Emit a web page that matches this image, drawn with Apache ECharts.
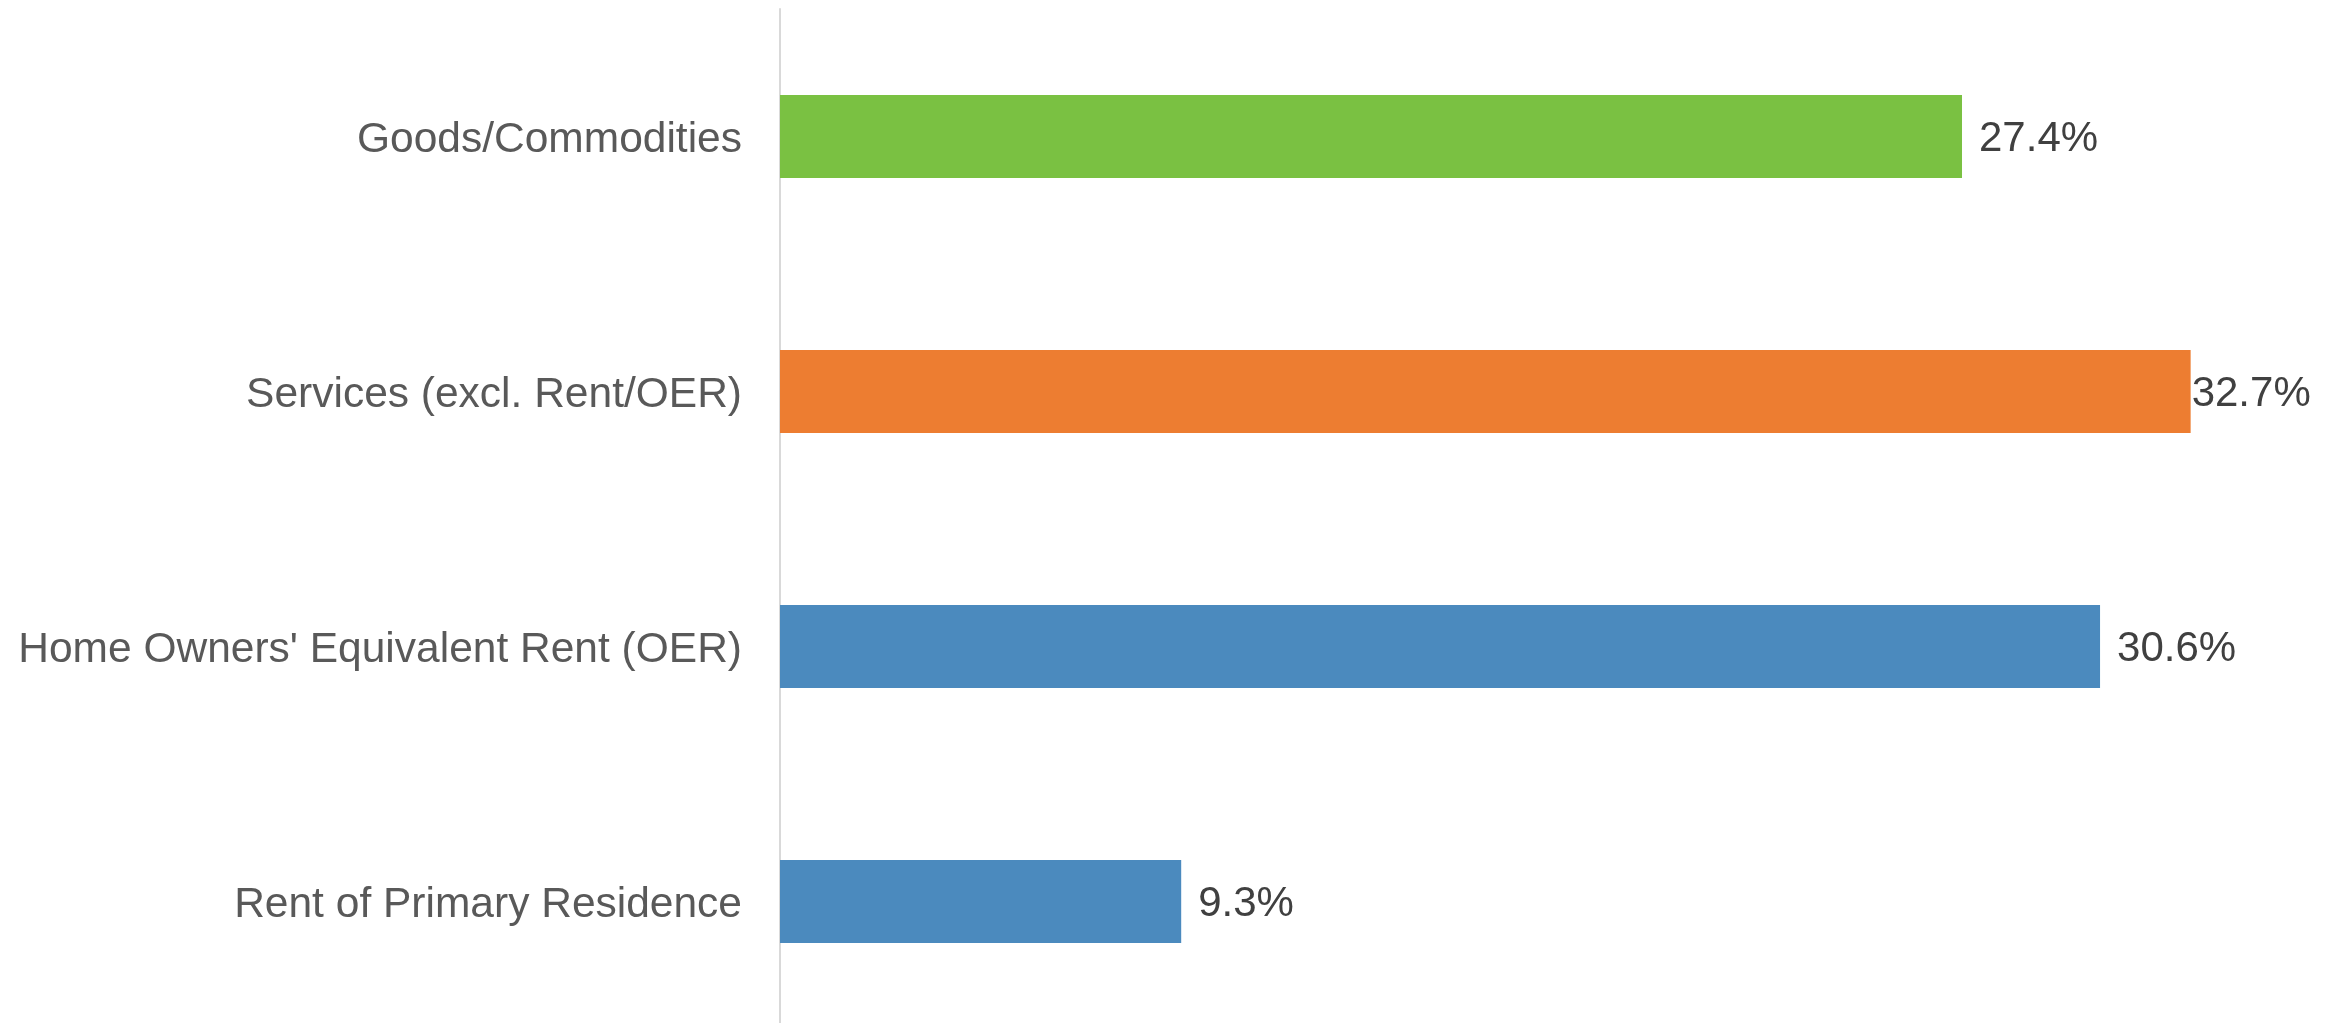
<!DOCTYPE html>
<html>
<head>
<meta charset="utf-8">
<script src="https://cdn.jsdelivr.net/npm/echarts@6/dist/echarts.min.js"></script>
<style>
  html, body { margin: 0; padding: 0; background: #ffffff; }
  #chart { width: 2341px; height: 1023px; }
</style>
</head>
<body>
<div id="chart"></div>
<script>
// Share of CPI components (top to bottom)
const categories = [
  "Goods/Commodities",
  "Services (excl. Rent/OER)",
  "Home Owners' Equivalent Rent (OER)",
  "Rent of Primary Residence"
];
const values = [27.4, 32.7, 30.6, 9.3];
const barColors = ["#7AC142", "#ED7D31", "#4B8ABE", "#4B8ABE"];
const labelGaps = [17, 1, 17, 17];

const chart = echarts.init(document.getElementById('chart'));

chart.setOption({
  animation: false,
  grid: {
    left: 780, width: 1553, top: 9, height: 1020,
    containLabel: false,
    outerBoundsMode: 'none'
  },
  xAxis: {
    type: 'value',
    min: 0,
    max: 36,
    show: false
  },
  yAxis: {
    type: 'category',
    data: categories,
    inverse: true,
    axisLine: { show: true, lineStyle: { color: '#D9D9D9', width: 2 } },
    axisTick: { show: false },
    axisLabel: {
      margin: 38,
      formatter: v => '{c|' + v + '}',
      rich: {
        c: {
          color: '#595959',
          fontFamily: 'Liberation Sans, Arial, sans-serif',
          fontSize: 42.5,
          padding: [7, 0, 0, 0]
        }
      }
    }
  },
  series: [{
    type: 'bar',
    barCategoryGap: '67.5%',
    data: values.map((v, i) => ({
      value: v,
      itemStyle: { color: barColors[i] },
      label: { distance: labelGaps[i] }
    })),
    label: {
      show: true,
      position: 'right',
      offset: [0, 3],
      formatter: p => p.value.toFixed(1) + '%',
      color: '#404040',
      fontFamily: 'Liberation Sans, Arial, sans-serif',
      fontSize: 42
    }
  }]
});
</script>
</body>
</html>
